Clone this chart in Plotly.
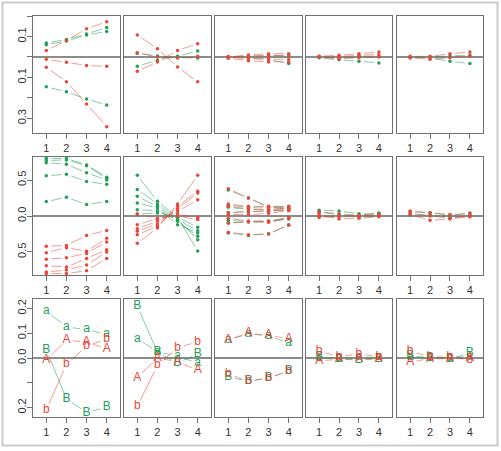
import math
import plotly.graph_objects as go

# ---------------- data ----------------
x_vals = [1, 2, 3, 4]
x_ticktext = ["1", "2", "3", "4"]

# row 1 (dots)
p11_red = [[0.032, 0.081, 0.138, 0.172], [-0.011, -0.026, -0.042, -0.045], [-0.050, -0.121, -0.230, -0.341]]
p11_green = [[0.068, 0.086, 0.113, 0.144], [0.060, 0.078, 0.107, 0.125], [-0.146, -0.170, -0.206, -0.235]]
p12_red = [[0.108, 0.040, -0.049, -0.121], [-0.070, -0.024, 0.032, 0.065], [0.021, 0.000, -0.005, 0.003]]
p12_green = [[-0.045, -0.016, 0.003, 0.029], [0.018, 0.005, -0.003, -0.005]]
p13_red = [[0.0, 0.010, 0.016, 0.016], [-0.006, -0.018, -0.024, -0.024], [0.002, 0.003, 0.006, 0.010], [0.0, -0.008, -0.010, -0.012]]
p13_green = [[0.0, -0.006, -0.012, -0.032], [0.001, 0.004, 0.008, 0.006]]
p14_red = [[0.004, 0.008, 0.016, 0.024], [0.0, -0.010, -0.004, 0.0], [0.002, 0.002, 0.008, 0.012]]
p14_green = [[-0.004, -0.014, -0.021, -0.029], [0.0, -0.004, 0.002, 0.004]]
p15_red = [[0.003, 0.003, 0.016, 0.024], [-0.005, -0.011, -0.004, 0.004]]
p15_green = [[0.0, -0.005, -0.021, -0.032], [0.0, 0.0, 0.005, 0.010]]

# row 2 (dots)
p21_red = [[-0.42, -0.41, -0.27, -0.20], [-0.51, -0.44, -0.49, -0.31], [-0.60, -0.58, -0.52, -0.36],
           [-0.69, -0.71, -0.59, -0.47], [-0.78, -0.75, -0.68, -0.50], [-0.80, -0.80, -0.76, -0.59]]
p21_green = [[0.80, 0.80, 0.71, 0.54], [0.77, 0.78, 0.70, 0.52], [0.74, 0.72, 0.60, 0.50],
             [0.56, 0.58, 0.48, 0.44], [0.20, 0.26, 0.16, 0.20]]
p22_red = [[-0.38, -0.167, 0.167, 0.565], [-0.26, -0.144, 0.134, 0.343], [-0.213, -0.111, 0.10, 0.32],
           [-0.176, -0.074, 0.065, 0.227], [-0.12, -0.04, 0.028, -0.02], [0.028, -0.03, 0.0, -0.05]]
p22_green = [[0.565, 0.204, -0.019, -0.486], [0.37, 0.167, -0.05, -0.329], [0.273, 0.134, -0.074, -0.282],
             [0.18, 0.111, -0.12, -0.236], [0.088, 0.074, -0.05, -0.204], [0.028, 0.042, -0.019, -0.157]]
p23_red = [[0.38, 0.25, 0.12, 0.10], [0.167, 0.134, 0.134, 0.134], [0.134, 0.10, 0.09, 0.11],
           [0.04, 0.065, 0.065, 0.088], [0.02, 0.02, 0.037, 0.074], [-0.03, -0.07, -0.074, -0.02],
           [-0.10, -0.08, -0.088, -0.03], [-0.227, -0.259, -0.25, -0.12]]
p23_green = [[0.36, 0.25, 0.13, 0.11], [0.15, 0.12, 0.125, 0.13], [0.12, 0.09, 0.085, 0.10],
             [0.05, 0.06, 0.07, 0.08], [-0.06, -0.075, -0.07, -0.025], [-0.09, -0.085, -0.08, -0.04],
             [-0.235, -0.27, -0.245, -0.13]]
p24_red = [[0.06, 0.03, 0.01, 0.01], [0.02, -0.04, -0.03, -0.01], [-0.02, -0.01, 0.0, 0.02]]
p24_green = [[0.08, 0.07, 0.03, 0.03], [0.05, 0.02, -0.02, 0.01], [0.0, 0.0, 0.01, 0.04]]
p25_red = [[0.07, 0.04, 0.02, 0.03], [0.02, -0.06, -0.04, -0.01], [0.04, 0.0, -0.03, 0.0]]
p25_green = [[0.06, 0.05, 0.01, 0.04], [0.01, 0.02, -0.02, 0.01]]

# row 3 (letters): green "a", green "B", red "A", red "b"
p31_a = [0.19, 0.125, 0.115, 0.095]
p31_B = [0.034, -0.165, -0.22, -0.198]
p31_A = [-0.007, 0.071, 0.065, 0.036]
p31_b = [-0.208, -0.026, 0.048, 0.077]
p32_a = [0.078, 0.025, 0.008, -0.02]
p32_B = [0.21, 0.023, -0.02, 0.017]
p32_A = [-0.079, 0.0, -0.015, -0.05]
p32_b = [-0.195, -0.03, 0.042, 0.065]
p33_a = [0.072, 0.098, 0.089, 0.06]
p33_B = [-0.078, -0.093, -0.081, -0.052]
p33_A = [0.074, 0.10, 0.091, 0.078]
p33_b = [-0.065, -0.093, -0.081, -0.052]
p34_a = [0.0, 0.0, 0.003, 0.003]
p34_B = [0.004, -0.005, -0.008, -0.002]
p34_A = [-0.012, -0.005, -0.005, -0.004]
p34_b = [0.028, 0.005, 0.017, 0.005]
p35_a = [0.004, 0.003, 0.002, 0.006]
p35_B = [0.008, 0.0, -0.003, 0.02]
p35_A = [-0.016, -0.003, -0.003, 0.0]
p35_b = [0.027, 0.005, 0.003, -0.007]

row_yranges = [[-0.372, 0.2005], [-0.82, 0.82], [-0.238, 0.238]]
row_yticks = [[-0.3, -0.2, -0.1, 0.0, 0.1, 0.2], [-0.5, 0.0, 0.5], [-0.2, -0.1, 0.0, 0.1, 0.2]]
row_yticktext = [["0.3", "", "0.1", "", "0.1", ""], ["0.5", "0.0", "0.5"], ["0.2", "", "0.0", "0.1", "0.2"]]

# ---------------- style ----------------
W, H = 501, 451
RED = "#E8473A"
GREEN = "#22A05A"
RED_L = "rgba(232,71,58,0.6)"
GREEN_L = "rgba(34,160,90,0.6)"
AXC = "#707070"
TXT = "#333333"
FONT = "Liberation Sans, Arial, sans-serif"
XR = [0.34, 4.66]

col_px = [(33, 120), (124, 211), (215, 302), (306, 392), (397, 483)]
row_px = [(16, 133), (157, 275), (299, 417)]

dot_panels = [
    [(p11_red, p11_green), (p12_red, p12_green), (p13_red, p13_green), (p14_red, p14_green), (p15_red, p15_green)],
    [(p21_red, p21_green), (p22_red, p22_green), (p23_red, p23_green), (p24_red, p24_green), (p25_red, p25_green)],
]
letter_panels = [
    (p31_a, p31_B, p31_A, p31_b), (p32_a, p32_B, p32_A, p32_b), (p33_a, p33_B, p33_A, p33_b),
    (p34_a, p34_B, p34_A, p34_b), (p35_a, p35_B, p35_A, p35_b),
]

fig = go.Figure()


def gapped(xs, ys, gap, sx, sy):
    X, Y = [], []
    for i in range(len(xs) - 1):
        dxd = xs[i + 1] - xs[i]
        dyd = ys[i + 1] - ys[i]
        L = math.hypot(dxd * sx, dyd * sy)
        if L <= 2 * gap:
            continue
        f = gap / L
        X += [xs[i] + f * dxd, xs[i + 1] - f * dxd, None]
        Y += [ys[i] + f * dyd, ys[i + 1] - f * dyd, None]
    return X, Y


def add_series(k, ys, line_col, mark_col, gap, sx, sy, text=None):
    ax = "" if k == 1 else str(k)
    X, Y = gapped(x_vals, ys, gap, sx, sy)
    fig.add_trace(go.Scatter(x=X, y=Y, mode="lines", line=dict(color=line_col, width=0.9),
                             xaxis="x" + ax, yaxis="y" + ax, showlegend=False, hoverinfo="skip"))
    if text is None:
        fig.add_trace(go.Scatter(x=x_vals, y=ys, mode="markers",
                                 marker=dict(color=mark_col, size=3.5, line=dict(width=0)),
                                 xaxis="x" + ax, yaxis="y" + ax, showlegend=False))
    else:
        fig.add_trace(go.Scatter(x=x_vals, y=ys, mode="text", text=[text] * 4,
                                 textposition="middle center",
                                 textfont=dict(color=mark_col, size=12, family=FONT),
                                 xaxis="x" + ax, yaxis="y" + ax, showlegend=False))


layout = {}
for r in range(3):
    for c in range(5):
        k = r * 5 + c + 1
        x0, x1 = col_px[c]
        y0, y1 = row_px[r]
        yr = row_yranges[r]
        sx = (x1 - x0) / (XR[1] - XR[0])
        sy = (y1 - y0) / (yr[1] - yr[0])
        if r < 2:
            reds, greens = dot_panels[r][c]
            for s in greens:
                add_series(k, s, GREEN_L, GREEN, 5, sx, sy)
            for s in reds:
                add_series(k, s, RED_L, RED, 5, sx, sy)
        else:
            a, B, A, b = letter_panels[c]
            add_series(k, a, GREEN_L, GREEN, 6.5, sx, sy, "a")
            add_series(k, B, GREEN_L, GREEN, 6.5, sx, sy, "B")
            add_series(k, A, RED_L, RED, 6.5, sx, sy, "A")
            add_series(k, b, RED_L, RED, 6.5, sx, sy, "b")
        ax = "" if k == 1 else str(k)
        layout["xaxis" + ax] = dict(
            domain=[x0 / W, x1 / W], range=XR, anchor="y" + ax,
            tickvals=x_vals, ticktext=x_ticktext, ticks="outside", ticklen=5, tickwidth=1,
            tickcolor=AXC, showline=True, linecolor=AXC, linewidth=1, mirror=True,
            showgrid=False, zeroline=False, tickfont=dict(size=11, color=TXT, family=FONT),
        )
        ydict = dict(
            domain=[1 - y1 / H, 1 - y0 / H], range=yr, anchor="x" + ax,
            showline=True, linecolor=AXC, linewidth=1, mirror=True, showgrid=False,
            zeroline=True, zerolinecolor="#8c8c8c", zerolinewidth=1.5,
        )
        if c == 0:
            ydict.update(tickvals=row_yticks[r], ticktext=row_yticktext[r], ticks="outside",
                         ticklen=5, tickwidth=1, tickcolor=AXC, tickangle=-90,
                         ticklabelstandoff=-3,
                         tickfont=dict(size=11, color=TXT, family=FONT))
        else:
            ydict.update(showticklabels=False, ticks="")
        layout["yaxis" + ax] = ydict

fig.update_layout(
    width=W, height=H, margin=dict(l=0, r=0, t=0, b=0),
    paper_bgcolor="white", plot_bgcolor="white", showlegend=False,
    shapes=[dict(type="rect", xref="paper", yref="paper",
                 x0=2.5 / W, x1=497.5 / W, y0=1 - 445.5 / H, y1=1 - 2.5 / H,
                 line=dict(color="#cccccc", width=2), fillcolor="rgba(0,0,0,0)")],
    **layout,
)
fig.write_html("out.html")
